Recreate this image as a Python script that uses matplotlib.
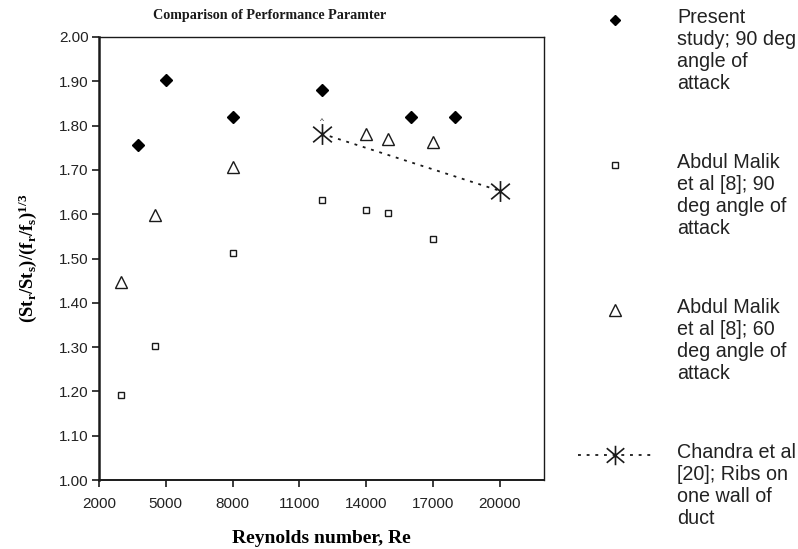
import matplotlib
matplotlib.use("Agg")
import matplotlib.pyplot as plt
from matplotlib.path import Path
from matplotlib.lines import Line2D

# ── Data ──────────────────────────────────────────────────────────────────────
present_re = [3750, 5000, 8000, 12000, 16000, 18000]
present    = [1.757, 1.904, 1.820, 1.881, 1.820, 1.820]

malik90_re = [3000, 4500, 8000, 12000, 14000, 15000, 17000]
malik90    = [1.192, 1.302, 1.513, 1.633, 1.610, 1.602, 1.545]

malik60_re = [3000, 4500, 8000, 14000, 15000, 17000]
malik60    = [1.448, 1.599, 1.707, 1.780, 1.770, 1.762]

chandra_re = [12000, 20000]
chandra    = [1.782, 1.653]

x_ticks = [2000, 5000, 8000, 11000, 14000, 17000, 20000]
y_ticks = [1.00, 1.10, 1.20, 1.30, 1.40, 1.50, 1.60, 1.70, 1.80, 1.90, 2.00]

labels = [
    "Present\nstudy; 90 deg\nangle of\nattack",
    "Abdul Malik\net al [8]; 90\ndeg angle of\nattack",
    "Abdul Malik\net al [8]; 60\ndeg angle of\nattack",
    "Chandra et al\n[20]; Ribs on\none wall of\nduct",
]

# ── Style ─────────────────────────────────────────────────────────────────────
plt.rcParams["mathtext.fontset"] = "custom"
plt.rcParams["mathtext.rm"] = "Liberation Serif"
plt.rcParams["mathtext.bf"] = "Liberation Serif:bold"
SANS  = "Liberation Sans"
SERIF = "Liberation Serif"
INK   = "#1a1a1a"

# asterisk marker: vertical bar + X
STAR = Path([(0, -1), (0, 1), (-0.9, -0.75), (0.9, 0.75), (-0.9, 0.75), (0.9, -0.75)],
            [Path.MOVETO, Path.LINETO, Path.MOVETO, Path.LINETO, Path.MOVETO, Path.LINETO])

W, H = 798, 549
fig = plt.figure(figsize=(W / 100, H / 100), dpi=100, facecolor="white")
ax = fig.add_axes([99 / W, 1 - 480 / H, 445 / W, (480 - 37) / H])

ax.plot(present_re, present, ls="none", marker="D", ms=6.6, color="black")
ax.plot(malik90_re, malik90, ls="none", marker="s", ms=4.6, mfc="white",
        mec=INK, mew=1.0)
ax.plot(malik60_re, malik60, ls="none", marker="^", ms=9, mfc="white",
        mec=INK, mew=1.0)
ax.plot(chandra_re, chandra, color=INK, lw=1.3, dashes=(1.6, 3.2),
        marker=STAR, ms=15, mew=1.2, mec=INK)
# small caret above first Chandra point
ax.text(chandra_re[0], chandra[0] + 0.027, "^", ha="center", va="center",
        fontsize=6, color=INK, family=SANS)

ax.set_xlim(2000, 22000)
ax.set_ylim(1.0, 2.0)
ax.set_xticks(x_ticks)
ax.set_yticks(y_ticks)
ax.set_xticklabels([str(v) for v in x_ticks])
ax.set_yticklabels([f"{v:.2f}" for v in y_ticks])
ax.tick_params(direction="out", length=5, width=1.2, color=INK,
               labelsize=11, labelcolor="#222222")
ax.tick_params(axis="x", pad=7)
ax.tick_params(axis="y", pad=2.5)
for lbl in ax.get_xticklabels() + ax.get_yticklabels():
    lbl.set_family(SANS)

ax.spines["left"].set_linewidth(1.8)
ax.spines["bottom"].set_linewidth(1.4)
ax.spines["right"].set_linewidth(1.0)
ax.spines["top"].set_linewidth(1.0)
for s in ax.spines.values():
    s.set_color(INK)

ax.set_xlabel("Reynolds number, Re", family=SERIF, fontweight="bold",
              fontsize=14, labelpad=14)
ax.set_ylabel(r"$\mathbf{(St_r/St_s)/(f_r/f_s)^{1/3}}$", fontsize=13.5)
ax.yaxis.set_label_coords(-0.135, 0.5)

fig.text(270 / W, 1 - 15 / H, "Comparison of Performance Paramter",
         ha="center", va="center", family=SERIF, fontweight="bold",
         fontsize=10.2, color=INK)

# ── Legend (right side) ───────────────────────────────────────────────────────
leg_y = [20, 165, 310, 455]
handles = [
    dict(marker="D", ms=5.2, color="black", ls="none"),
    dict(marker="s", ms=4.0, mfc="white", mec=INK, mew=1.0, ls="none"),
    dict(marker="^", ms=8, mfc="white", mec=INK, mew=1.0, ls="none"),
    None,
]
for yy, lab, hk in zip(leg_y, labels, handles):
    yf = 1 - yy / H
    if hk is None:
        fig.add_artist(Line2D([578 / W, 652 / W], [yf, yf],
                              transform=fig.transFigure, color=INK, lw=1.3,
                              dashes=(1.6, 3.2)))
        fig.add_artist(Line2D([615 / W], [yf], transform=fig.transFigure,
                              marker=STAR, ms=14, mec=INK, mew=1.2, ls="none"))
    else:
        fig.add_artist(Line2D([615 / W], [yf], transform=fig.transFigure, **hk))
    fig.text(677 / W, 1 - (yy - 12) / H, lab, ha="left", va="top",
             family=SANS, fontsize=14.2, color="#222222", linespacing=1.2)

fig.savefig("out.png", dpi=100, facecolor="white")
